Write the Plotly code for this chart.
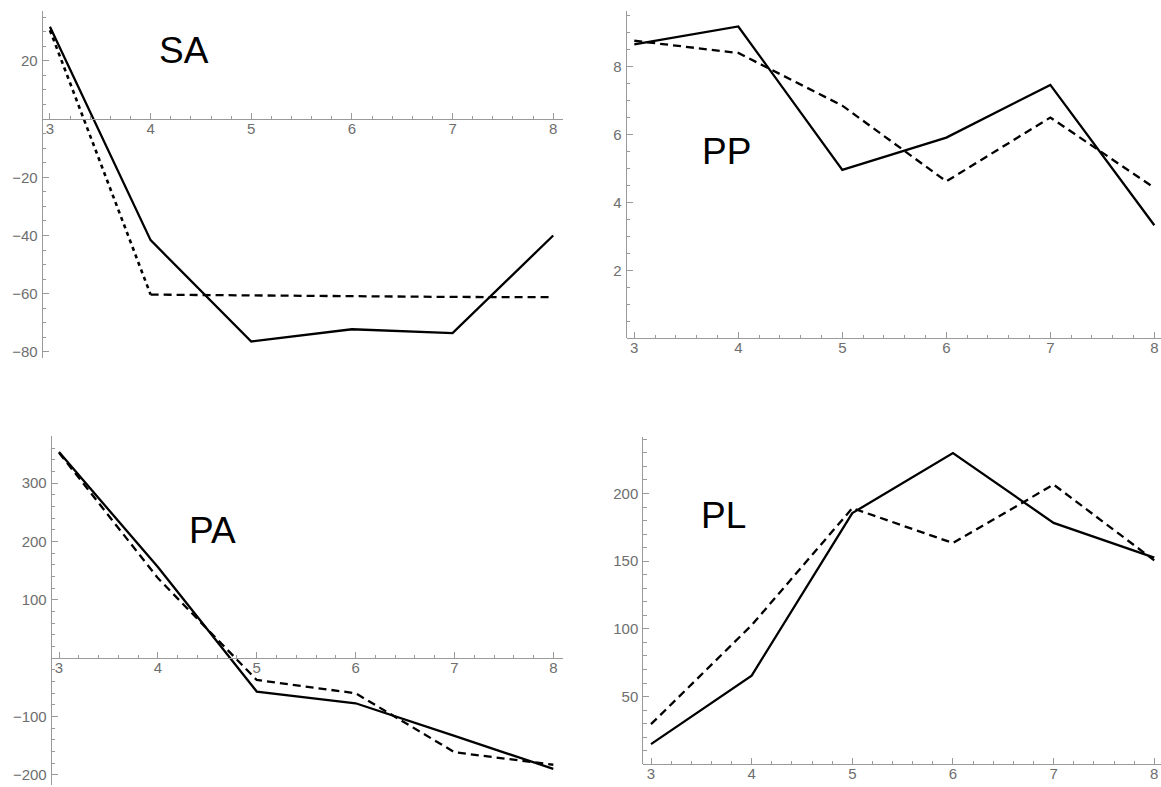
import plotly.graph_objects as go

# ---------------- data ----------------
x_steps = [3, 4, 5, 6, 7, 8]

sa_solid = [31.7, -41.6, -76.4, -72.2, -73.5, -40.0]
sa_dashed = [30.5, -60.3, -60.6, -60.8, -61.1, -61.2]

pp_solid = [8.65, 9.18, 4.96, 5.91, 7.46, 3.33]
pp_dashed = [8.76, 8.40, 6.85, 4.62, 6.50, 4.43]

pa_solid = [353, 156, -57.5, -77.6, -133.6, -190]
pa_dashed = [352, 137, -37.7, -60.4, -161.5, -183]

pl_solid = [14.9, 65.5, 185.5, 229.9, 178.3, 152.6]
pl_dashed = [29.6, 102.7, 189.2, 163.4, 206.6, 150.6]

panel_names = ["SA", "PP", "PA", "PL"]
x_tick_labels = [3, 4, 5, 6, 7, 8]
sa_y_ticks = [-80, -60, -40, -20, 20]
pp_y_ticks = [2, 4, 6, 8]
pa_y_ticks = [-200, -100, 100, 200, 300]
pl_y_ticks = [50, 100, 150, 200]

# ---------------- layout constants ----------------
W, H = 1161, 787
FONT = "Liberation Sans, Arial, sans-serif"
AXIS_COLOR = "#9a9a9a"
TICK_FONT_COLOR = "#6e6e6e"
TICK_SIZE = 15

# pixel boxes (left, right, top, bottom) in window pixels
panels = [
    dict(name=panel_names[0], solid=sa_solid, dashed=sa_dashed, yticks=sa_y_ticks,
         box=(42.7, 563.3, 10.7, 359.3), xr=[2.928, 8.10], yr=[-82.2, 37.2], ymin_dt=5,
         label=(184, 51), split_first=True),
    dict(name=panel_names[1], solid=pp_solid, dashed=pp_dashed, yticks=pp_y_ticks,
         box=(626.7, 1161, 10.7, 339.2), xr=[2.927, 8.064], yr=[0, 9.645], ymin_dt=0.5,
         label=(726, 151.5), split_first=False),
    dict(name=panel_names[2], solid=pa_solid, dashed=pa_dashed, yticks=pa_y_ticks,
         box=(51.7, 563.3, 437.3, 787), xr=[2.926, 8.101], yr=[-217.7, 380.3], ymin_dt=20,
         label=(212.5, 531.7), split_first=False),
    dict(name=panel_names[3], solid=pl_solid, dashed=pl_dashed, yticks=pl_y_ticks,
         box=(643.3, 1161, 438.3, 766.2), xr=[2.9235, 8.067], yr=[0, 241.6], ymin_dt=10,
         label=(723, 516.7), split_first=False),
]

fig = go.Figure()
annotations = []

for i, p in enumerate(panels, start=1):
    xa = "x" if i == 1 else f"x{i}"
    ya = "y" if i == 1 else f"y{i}"
    left, right, top, bottom = p["box"]
    dx = [max(0, left / W), min(1, right / W)]
    dy = [max(0, 1 - bottom / H), min(1, 1 - top / H)]
    y0, y1 = p["yr"]
    xpos = dy[0] + (0 - y0) / (y1 - y0) * (dy[1] - dy[0])

    fig.add_trace(go.Scatter(x=x_steps, y=p["solid"], mode="lines", xaxis=xa, yaxis=ya,
                             line=dict(color="black", width=2.3), showlegend=False,
                             hoverinfo="skip"))
    if p["split_first"]:
        fig.add_trace(go.Scatter(x=x_steps[:2], y=p["dashed"][:2], mode="lines", xaxis=xa, yaxis=ya,
                                 line=dict(color="black", width=2.6, dash="4px,4px"),
                                 showlegend=False, hoverinfo="skip"))
        fig.add_trace(go.Scatter(x=x_steps[1:], y=p["dashed"][1:], mode="lines", xaxis=xa, yaxis=ya,
                                 line=dict(color="black", width=2.3, dash="8px,5px"),
                                 showlegend=False, hoverinfo="skip"))
    else:
        fig.add_trace(go.Scatter(x=x_steps, y=p["dashed"], mode="lines", xaxis=xa, yaxis=ya,
                                 line=dict(color="black", width=2.3, dash="8px,5px"),
                                 showlegend=False, hoverinfo="skip"))

    xkey = "xaxis" if i == 1 else f"xaxis{i}"
    ykey = "yaxis" if i == 1 else f"yaxis{i}"
    fig.update_layout({
        xkey: dict(domain=dx, range=p["xr"], anchor="free", position=xpos,
                   showgrid=False, zeroline=False, showline=True, linecolor=AXIS_COLOR,
                   linewidth=1, tickmode="array", tickvals=x_tick_labels,
                   ticks="inside", ticklen=6, tickcolor=AXIS_COLOR, tickwidth=1,
                   ticklabelstandoff=-4,
                   tickfont=dict(family=FONT, size=TICK_SIZE, color=TICK_FONT_COLOR),
                   minor=dict(ticks="inside", dtick=0.2, tick0=3, ticklen=3.5,
                              tickcolor=AXIS_COLOR, showgrid=False),
                   fixedrange=True),
        ykey: dict(domain=dy, range=p["yr"], anchor=xa,
                   showgrid=False, zeroline=False, showline=True, linecolor=AXIS_COLOR,
                   linewidth=1, tickmode="array", tickvals=p["yticks"],
                   ticks="inside", ticklen=6, tickcolor=AXIS_COLOR, tickwidth=1,
                   ticklabelstandoff=1,
                   tickfont=dict(family=FONT, size=TICK_SIZE, color=TICK_FONT_COLOR),
                   minor=dict(ticks="inside", dtick=p["ymin_dt"], tick0=0, ticklen=3.5,
                              tickcolor=AXIS_COLOR, showgrid=False),
                   fixedrange=True),
    })

    lx, ly = p["label"]
    annotations.append(dict(text=p["name"], x=lx / W, y=1 - ly / H,
                            xref="paper", yref="paper",
                            xanchor="center", yanchor="middle", showarrow=False,
                            font=dict(family=FONT, size=37, color="black")))

fig.update_layout(width=W, height=H, margin=dict(l=0, r=0, t=0, b=0),
                  paper_bgcolor="white", plot_bgcolor="white",
                  annotations=annotations, showlegend=False)

page_js = ("document.body.style.margin='0';"
           "document.body.style.overflow='hidden';"
           "document.documentElement.style.overflow='hidden';")

fig.write_html("out.html", config={"displayModeBar": False}, post_script=page_js)
